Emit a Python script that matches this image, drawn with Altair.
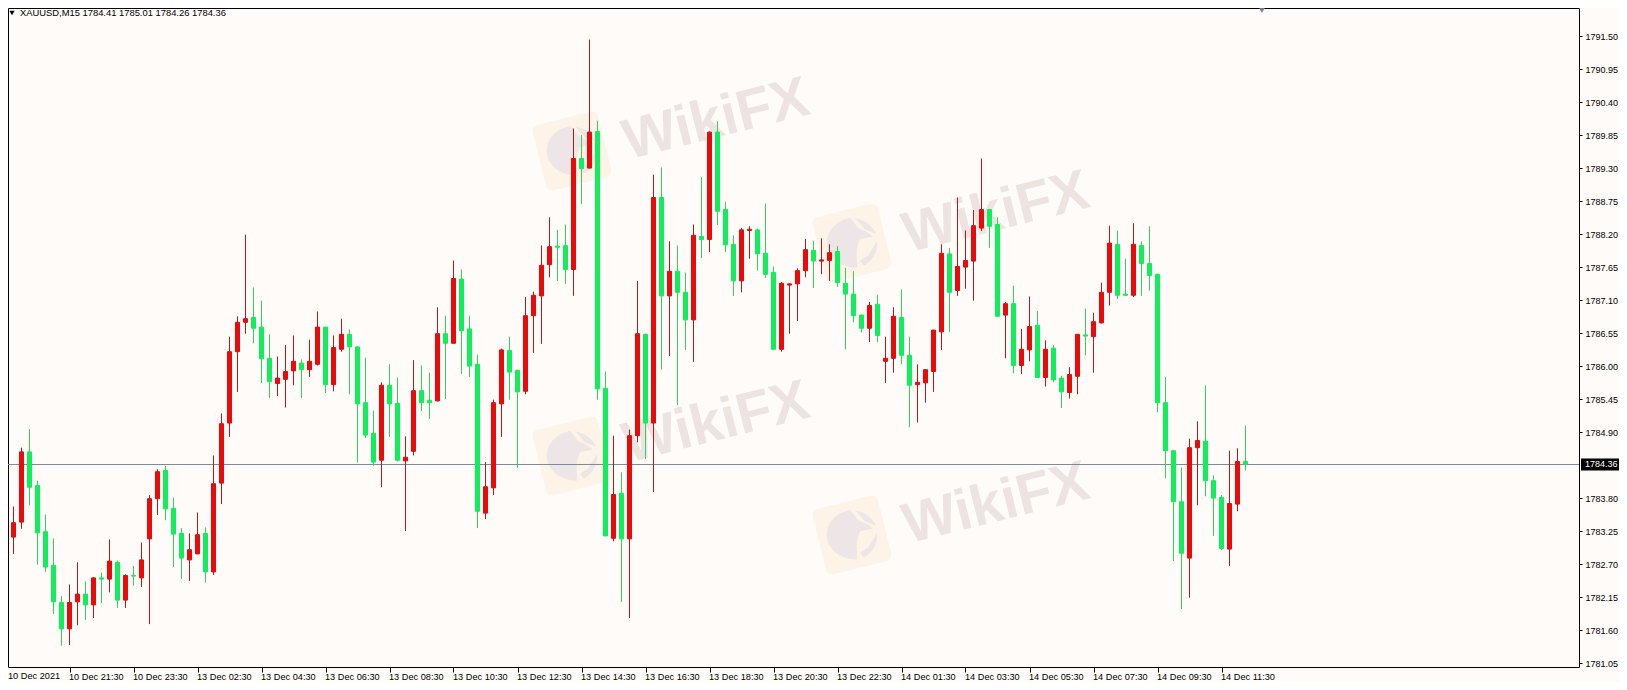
import altair as alt
import pandas as pd

highs = [1785.01,1783.66,1784.64,1784.95,1784.09,1783.53,1783.13,1782.17,1782.36,1782.73,
1782.41,1782.48,1782.56,1783.11,1782.76,1782.53,1782.67,1783.06,1783.85,1784.28,
1784.34,1783.81,1783.30,1783.21,1783.56,1783.31,1784.51,1785.21,1786.49,1786.83,
1788.19,1787.31,1787.09,1786.53,1786.16,1786.35,1786.51,1786.11,1786.44,1786.91,
1786.65,1786.51,1786.79,1786.61,1786.33,1786.14,1785.26,1785.73,1786.03,1785.81,
1784.83,1786.10,1786.01,1785.89,1786.98,1786.84,1787.76,1787.61,1786.84,1786.19,
1784.40,1785.44,1786.29,1786.49,1785.94,1787.15,1787.24,1788.01,1788.48,1788.27,
1788.36,1789.96,1789.85,1791.44,1790.09,1785.91,1784.84,1784.23,1784.94,1787.42,
1786.54,1789.19,1789.31,1788.08,1788.01,1787.56,1788.36,1789.15,1789.91,1790.08,
1788.74,1788.18,1788.30,1788.33,1788.29,1788.71,1787.66,1787.40,1787.38,1787.63,
1788.12,1788.09,1788.13,1788.03,1788.00,1787.64,1787.58,1786.86,1787.07,1787.19,
1786.49,1786.98,1787.28,1786.49,1786.03,1785.95,1786.60,1788.03,1787.97,1788.81,
1788.26,1788.60,1789.46,1788.62,1788.48,1787.07,1787.34,1786.62,1787.16,1786.92,
1786.43,1786.35,1785.84,1785.98,1786.53,1786.96,1786.89,1787.39,1788.34,1788.26,
1787.79,1788.38,1788.08,1788.33,1787.54,1785.82,1784.60,1784.31,1784.79,1785.08,
1785.68,1784.18,1783.85,1784.59,1784.63,1785.01]

lows = [1783.15,1782.87,1783.29,1783.68,1782.69,1782.57,1781.87,1781.34,1781.35,1781.68,
1781.77,1781.80,1782.05,1782.23,1781.97,1781.97,1782.34,1782.32,1781.70,1783.52,
1783.43,1782.65,1782.45,1782.42,1782.87,1782.39,1782.52,1783.70,1784.82,1785.57,
1786.54,1786.38,1785.72,1785.47,1785.50,1785.31,1785.68,1785.47,1785.82,1786.01,
1785.55,1785.58,1786.24,1785.53,1784.39,1784.80,1784.34,1783.98,1784.82,1784.41,
1783.25,1784.51,1785.25,1785.12,1785.41,1785.45,1786.38,1785.87,1785.82,1783.30,
1783.45,1783.85,1784.82,1785.44,1784.30,1785.53,1786.22,1786.37,1787.48,1787.42,
1787.37,1787.17,1788.70,1789.30,1785.44,1783.17,1783.08,1782.07,1781.80,1784.73,
1784.45,1783.90,1785.94,1786.17,1785.35,1786.27,1786.07,1787.80,1787.90,1788.35,
1787.90,1787.17,1787.23,1787.79,1787.59,1787.47,1786.27,1786.24,1786.54,1786.75,
1787.48,1787.30,1787.53,1787.42,1787.32,1786.28,1786.73,1786.56,1786.40,1786.40,
1785.72,1785.89,1786.03,1784.98,1785.06,1785.39,1785.57,1786.27,1786.57,1787.17,
1787.29,1787.09,1788.25,1787.97,1786.82,1786.13,1785.88,1785.87,1786.08,1785.80,
1785.66,1785.73,1785.30,1785.46,1785.53,1786.18,1785.89,1786.71,1787.01,1787.12,
1787.17,1787.15,1787.17,1787.26,1785.23,1784.13,1782.75,1781.95,1782.14,1783.68,
1783.83,1783.17,1782.93,1782.67,1783.58,1784.26]

opens = [1784.45,1783.15,1783.40,1784.57,1784.01,1783.24,1782.68,1782.06,1781.62,1782.07,
1782.20,1782.02,1782.47,1782.45,1782.73,1782.10,1782.51,1782.47,1783.12,1783.79,
1784.26,1783.63,1783.21,1782.77,1782.87,1783.21,1782.57,1784.05,1785.05,1786.24,
1786.73,1786.81,1786.65,1786.13,1785.71,1785.78,1785.92,1786.05,1785.94,1786.03,
1786.65,1785.69,1786.28,1786.53,1786.32,1785.39,1784.88,1784.43,1785.68,1785.38,
1784.42,1784.58,1785.59,1785.43,1785.42,1786.54,1786.38,1787.45,1786.62,1786.03,
1783.55,1783.97,1785.37,1786.26,1785.93,1785.58,1786.84,1787.17,1787.69,1788.00,
1788.01,1787.61,1789.46,1789.30,1789.91,1785.63,1783.13,1783.88,1783.12,1784.84,
1786.53,1785.05,1788.81,1787.17,1787.58,1787.23,1786.77,1788.16,1788.11,1789.90,
1788.61,1788.03,1787.42,1788.26,1788.27,1787.88,1787.56,1786.28,1787.35,1787.37,
1787.59,1787.93,1787.75,1787.76,1787.91,1787.38,1787.20,1786.85,1786.63,1787.03,
1786.08,1786.13,1786.81,1786.18,1785.69,1785.72,1785.91,1786.57,1787.87,1787.26,
1787.65,1787.75,1788.30,1788.61,1788.36,1786.85,1787.04,1786.01,1786.27,1786.68,
1785.81,1786.30,1785.80,1785.56,1785.83,1786.52,1786.49,1786.72,1787.23,1788.03,
1787.20,1787.18,1788.01,1787.71,1787.53,1785.39,1784.59,1783.74,1782.80,1784.64,
1784.75,1784.09,1783.81,1782.95,1783.70,1784.41]

closes = [1783.15,1783.39,1784.57,1783.98,1783.22,1782.65,1782.07,1781.62,1782.06,1782.20,
1782.02,1782.47,1782.45,1782.75,1782.10,1782.51,1782.50,1782.77,1783.79,1784.24,
1783.62,1783.20,1782.80,1782.94,1783.19,1782.57,1784.04,1785.04,1786.24,1786.73,
1786.79,1786.63,1786.12,1785.74,1785.80,1785.91,1786.08,1785.94,1786.08,1786.65,
1785.69,1786.31,1786.53,1786.32,1785.37,1784.85,1784.40,1785.68,1785.37,1784.43,
1784.48,1785.59,1785.39,1785.39,1786.54,1786.38,1787.46,1786.59,1786.00,1783.58,
1783.99,1785.39,1786.27,1785.90,1785.57,1786.84,1787.18,1787.68,1787.99,1787.98,
1787.61,1789.46,1789.29,1789.90,1785.62,1783.17,1783.86,1783.12,1784.84,1786.54,
1785.05,1788.81,1787.17,1787.58,1787.23,1786.77,1788.18,1788.11,1789.90,1788.58,
1788.02,1787.42,1788.27,1788.28,1787.87,1787.53,1786.28,1787.38,1787.37,1787.59,
1787.94,1787.75,1787.77,1787.89,1787.39,1787.20,1786.84,1786.63,1787.01,1786.51,
1786.13,1786.83,1786.18,1785.68,1785.73,1785.94,1786.60,1787.88,1787.23,1787.66,
1787.76,1788.34,1788.61,1788.33,1786.83,1787.04,1786.01,1786.28,1786.66,1785.81,
1786.28,1785.77,1785.57,1785.86,1786.53,1786.50,1786.74,1787.23,1788.05,1787.18,
1787.18,1788.03,1787.71,1787.51,1785.39,1784.59,1783.74,1782.88,1784.64,1784.76,
1784.09,1783.80,1782.96,1783.71,1784.41,1784.36]

time_labels = ["10 Dec 2021","10 Dec 21:30","10 Dec 23:30","13 Dec 02:30","13 Dec 04:30",
"13 Dec 06:30","13 Dec 08:30","13 Dec 10:30","13 Dec 12:30","13 Dec 14:30","13 Dec 16:30",
"13 Dec 18:30","13 Dec 20:30","13 Dec 22:30","14 Dec 01:30","14 Dec 03:30","14 Dec 05:30",
"14 Dec 07:30","14 Dec 09:30","14 Dec 11:30"]
price_ticks = [1791.50,1790.95,1790.40,1789.85,1789.30,1788.75,1788.20,1787.65,1787.10,1786.55,
1786.00,1785.45,1784.90,1783.80,1783.25,1782.70,1782.15,1781.60,1781.05]
last_price = [1784.36]
header = "XAUUSD,M15  1784.41 1785.01 1784.26 1784.36"

BG = "#FFFBF9"
RED, GREEN = "#EA0A0A", "#10EE5C"
RED_W, GREEN_W = "#B01C1C", "#2FD65A"
FONT = "Liberation Sans"

df = pd.DataFrame({"i": range(len(highs)), "high": highs, "low": lows, "open": opens, "close": closes})
df["dir"] = ["up" if c > o else "down" for o, c in zip(opens, closes)]

x_scale = alt.Scale(domain=[0.3125, 196.6875], nice=False, zero=False, padding=0)
y_scale = alt.Scale(domain=[1780.985, 1791.968], nice=False, zero=False)

tick_idx = [8 * k for k in range(1, len(time_labels))]
label_expr = "[" + ",".join("'%s'" % t for t in time_labels) + "][datum.value/8]"

x_axis = alt.Axis(values=tick_idx, labelExpr=label_expr, orient="bottom", grid=False,
                  domain=False, tickColor="black", tickSize=5, labelAlign="left",
                  labelPadding=0, labelFont=FONT, labelFontSize=9.2, labelColor="black",
                  labelOverlap=False, labelBound=False, labelFlush=False, labelOffset=-1)
y_axis = alt.Axis(values=price_ticks, orient="right", grid=False, domain=False,
                  tickColor="black", tickSize=3, labelPadding=3, format=".2f",
                  labelFont=FONT, labelFontSize=9, labelColor="black", labelOverlap=False,
                  labelBound=False, labelFlush=False)


def X(field):
    return alt.X(field, scale=x_scale, title=None, axis=x_axis)


def Y(field):
    return alt.Y(field, scale=y_scale, title=None, axis=y_axis)


layers = []
one = pd.DataFrame({"k": [0]})

# watermark: logo + WikiFX, four times
EAGLE = ("M-1,0 C-1,-0.7 -0.4,-1 0.1,-1 L0.35,-0.55 C0.5,-0.45 0.8,-0.25 0.85,-0.1 L0.35,-0.1 "
         "C0.2,0.1 0.1,0.3 0.05,1 C-0.5,0.95 -1,0.5 -1,0 Z "
         "M0.3,-0.95 C0.7,-0.8 0.95,-0.5 1,-0.2 L0.6,-0.45 Z "
         "M1,0.1 C0.95,0.6 0.6,0.9 0.3,0.97 L0.2,0.75 L0.55,0.6 Z")
ROUND = ("M-0.8,-1 L0.8,-1 Q1,-1 1,-0.8 L1,0.8 Q1,1 0.8,1 L-0.8,1 Q-1,1 -1,0.8 L-1,-0.8 Q-1,-1 -0.8,-1 Z")
for lx, ly, tx, ty in [(564, 143, 708, 112), (844, 235, 988, 205), (564, 448, 708, 415), (844, 527, 988, 496)]:
    layers.append(alt.Chart(one).mark_point(shape=ROUND, filled=True, fill="#FDF3E6", stroke=None, opacity=1,
                                            size=4500, angle=346).encode(x=alt.value(lx), y=alt.value(ly)))
    layers.append(alt.Chart(one).mark_point(shape=EAGLE, filled=True, fill="#EEE6E6", stroke=None, opacity=1,
                                            size=2500, angle=350).encode(x=alt.value(lx), y=alt.value(ly)))
    layers.append(alt.Chart(one).mark_text(text="WikiFX", font=FONT, fontWeight="bold", fontSize=57,
                                           angle=346, color="#EDE3E1", align="center", baseline="middle")
                  .encode(x=alt.value(tx), y=alt.value(ty)))

line_df = pd.DataFrame({"p": last_price})
layers.append(alt.Chart(line_df).mark_rule(color="#7C8A99", strokeWidth=1).encode(y=Y("p:Q")))

dir_color = alt.Scale(domain=["up", "down"], range=[RED, GREEN])
dir_wick = alt.Scale(domain=["up", "down"], range=[RED_W, GREEN_W])

layers.append(alt.Chart(df).mark_rule(strokeWidth=1, clip=True).encode(
    x=X("i:Q"), y=Y("high:Q"), y2="low:Q", color=alt.Color("dir:N", scale=dir_wick, legend=None)))
layers.append(alt.Chart(df).mark_bar(size=4, strokeWidth=1, clip=True).encode(
    x=X("i:Q"), y=Y("open:Q"), y2="close:Q",
    fill=alt.Fill("dir:N", scale=dir_color, legend=None),
    stroke=alt.Stroke("dir:N", scale=dir_color, legend=None)))

# price box on the right axis
layers.append(alt.Chart(line_df).mark_rule(color="black", strokeWidth=12, clip=False).encode(
    x=alt.value(1573), x2=alt.value(1611), y=Y("p:Q")))
layers.append(alt.Chart(line_df).mark_text(color="white", font=FONT, fontSize=9, align="left",
                                           baseline="middle", clip=False)
              .transform_calculate(t="format(datum.p,'.2f')").encode(
    x=alt.value(1577), y=Y("p:Q"), text="t:N"))

# first time label (its tick sits left of the frame)
layers.append(alt.Chart(one).mark_text(text=time_labels[0], font=FONT, fontSize=9.2, color="black",
                                       align="left", baseline="middle")
              .encode(x=alt.value(0), y=alt.value(668)))
# header
layers.append(alt.Chart(one).mark_point(shape="triangle-down", filled=True, fill="black", stroke=None,
                                        opacity=1, size=28)
              .encode(x=alt.value(4), y=alt.value(5)))
layers.append(alt.Chart(one).mark_text(text=header, font=FONT, fontSize=9.4, color="black", align="left",
                                       baseline="middle")
              .encode(x=alt.value(12), y=alt.value(5)))
# marker on top edge
layers.append(alt.Chart(one).mark_point(shape="triangle-down", filled=True, fill="#708090", stroke=None,
                                        opacity=1, size=80)
              .encode(x=alt.value(1254), y=alt.value(1)))

chart = (alt.layer(*layers)
         .properties(width=1571, height=659, background=BG,
                     padding={"left": 0, "top": 0, "right": 40, "bottom": 15},
                     autosize=alt.AutoSizeParams(type="none"))
         .resolve_scale(color="independent", fill="independent", stroke="independent")
         .configure_view(stroke="black", strokeWidth=1, fill=BG))

chart.save("out.html", embed_options={"renderer": "svg", "actions": False})
